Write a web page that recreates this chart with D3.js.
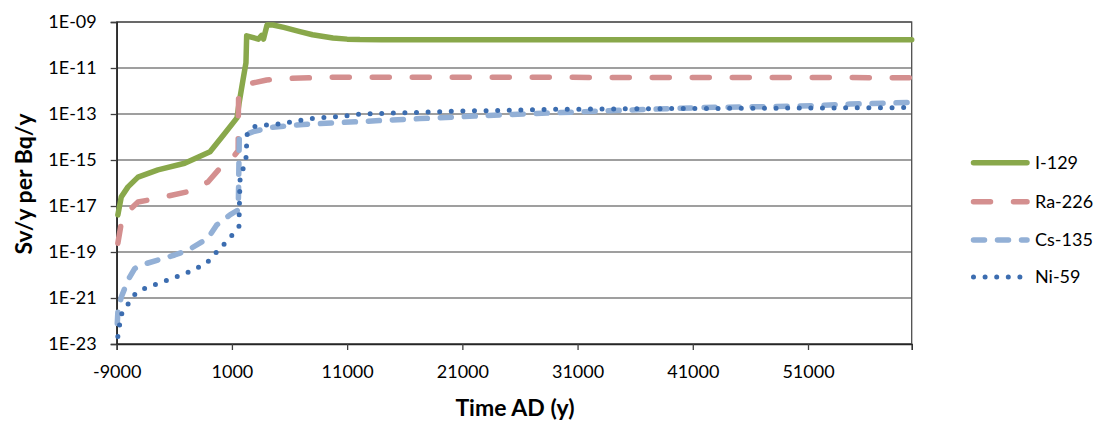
<!DOCTYPE html>
<html><head><meta charset="utf-8">
<script src="https://cdn.jsdelivr.net/npm/d3@7"></script>
<style>
body{margin:0;background:#fff}
svg{display:block}
text{font-family:Lato,"DejaVu Sans",sans-serif;fill:#000}
</style>
</head><body><svg id="c" width="1099" height="424"></svg>
<script>
// ---- data ----
const xTickValues = [-9000, 1000, 11000, 21000, 31000, 41000, 51000];
const yTickLabels = ["1E-23","1E-21","1E-19","1E-17","1E-15","1E-13","1E-11","1E-09"];
const seriesNames = ["I-129","Ra-226","Cs-135","Ni-59"];
const xTitle = "Time AD (y)";
const yTitle = "Sv/y per Bq/y";

const i129Years  = [-8900,-8600,-8020,-7150,-5420,-3100,-900,250,1440,1610,1960,2220,2280,3290,3580,3740,3870,4050,4570,5500,6900,8000,9770,11000,12100,14000,20000,60000];
const i129Values = [4.1e-18,2.5e-17,6.8e-17,1.8e-16,3.7e-16,7.2e-16,2.3e-15,1.2e-14,6.8e-14,2.7e-13,3.0e-12,1.7e-11,2.5e-10,1.8e-10,2.6e-10,1.8e-10,3.3e-10,7.4e-10,7.4e-10,5.8e-10,3.8e-10,2.8e-10,2.0e-10,1.8e-10,1.72e-10,1.7e-10,1.7e-10,1.7e-10];

const ra226Years  = [-8900,-8650,-8370,-7730,-7150,-6280,-4550,-2810,-1080,-40,1270,1540,1560,1580,1870,2570,4020,5900,9770,60000];
const ra226Values = [2.4e-19,1.3e-18,4.0e-18,7.9e-18,1.5e-17,1.8e-17,2.7e-17,4.2e-17,1.1e-16,4.4e-16,1.7e-15,2.5e-15,1.0e-13,5.5e-13,1.3e-12,2.1e-12,3.0e-12,3.5e-12,4.0e-12,3.8e-12];

const cs135Years  = [-8950,-8890,-8600,-8020,-7440,-6870,-5420,-3970,-2810,-1080,-320,830,1550,1640,1990,2860,4310,7170,10090,12120,17320,24270,32950,41630,50300,54640,60000];
const cs135Values = [7.9e-23,3.0e-22,1.1e-21,6.0e-21,1.9e-20,2.7e-20,4.5e-20,7.4e-20,1.2e-19,4.0e-19,1.5e-18,4.1e-18,6.8e-18,1.0e-14,1.2e-14,1.7e-14,2.6e-14,3.5e-14,4.2e-14,4.7e-14,6.3e-14,9.1e-14,1.35e-13,1.9e-13,2.2e-13,2.7e-13,3.2e-13];

const ni59Years  = [-8900,-8740,-8540,-7960,-7390,-6630,-5700,-4750,-3770,-2810,-1940,-1080,-380,320,1030,1610,1660,1700,1990,2220,2270,2280,2860,4020,5030,6040,7060,8060,9080,10090,11100,11970,19930,28610,37290,48570,60000];
const ni59Values = [2.1e-23,7.2e-23,2.3e-22,5.9e-22,1.5e-21,2.5e-21,3.8e-21,5.6e-21,8.5e-21,1.3e-20,2.1e-20,3.8e-20,9.3e-20,2.2e-19,5.5e-19,1.3e-18,1.8e-17,1.3e-16,4.5e-16,1.2e-15,3.8e-15,1.2e-14,2.8e-14,3.3e-14,3.7e-14,4.4e-14,5.5e-14,6.5e-14,7.2e-14,7.6e-14,8.5e-14,9.8e-14,1.3e-13,1.6e-13,1.7e-13,1.8e-13,1.9e-13];

// ---- chart ----
const svg = d3.select("#c");
svg.append("rect").attr("width",1099).attr("height",424).attr("fill","#fff");
const L = 116.7, R = 911.7, T = 22, B = 344;
const x = d3.scaleLinear().domain([-9000, 60000]).range([L, R]);
const yTicks = yTickLabels.map(Number);
const y = d3.scaleLog().domain([yTicks[0], yTicks[yTicks.length-1]]).range([B, T]);

// gridlines
svg.append("g").selectAll("line").data(yTicks).join("line")
  .attr("x1", L).attr("x2", R)
  .attr("y1", d => y(d)).attr("y2", d => y(d))
  .attr("stroke", "#7f7f7f").attr("stroke-width", 1.3);

// plot border
svg.append("rect").attr("x", L).attr("y", T).attr("width", R-L).attr("height", B-T)
  .attr("fill","none").attr("stroke","#4d4d4d").attr("stroke-width",1.3);

// axes
const yAxis = svg.append("g").attr("transform", `translate(${L},0)`)
  .call(d3.axisLeft(y).tickValues(yTicks).tickFormat((d,i)=>yTickLabels[i]).tickSize(6).tickPadding(14));
const xAxis = svg.append("g").attr("transform", `translate(0,${B})`)
  .call(d3.axisBottom(x).tickValues(xTickValues).tickFormat(d=>String(d)).tickSize(6).tickPadding(15));
[yAxis, xAxis].forEach(g=>{
  g.select(".domain").attr("stroke","#262626").attr("stroke-width",1.5);
  g.selectAll(".tick line").attr("stroke","#404040").attr("stroke-width",1.3);
  g.selectAll(".tick text").style("font-size","18px").style("font-family","Lato").attr("fill","#000");
});

// titles
svg.append("text").attr("transform","translate(32,184) rotate(-90)")
  .attr("text-anchor","middle").style("font-size","23px").style("font-weight","bold").text(yTitle);
svg.append("text").attr("x",515).attr("y",416)
  .attr("text-anchor","middle").style("font-size","23px").style("font-weight","bold").text(xTitle);

// series
const styles = [
  {color:"#89a84b", width:5.5, dash:null},
  {color:"#d48f8f", width:5.5, dash:"17 23"},
  {color:"#93b0d6", width:5.5, dash:"11 13"},
  {color:"#3c6db0", width:5, dash:"0 11.6"}
];
const series = [
  i129Years.map((t,i)=>[t,i129Values[i]]),
  ra226Years.map((t,i)=>[t,ra226Values[i]]),
  cs135Years.map((t,i)=>[t,cs135Values[i]]),
  ni59Years.map((t,i)=>[t,ni59Values[i]])
];
const line = d3.line().x(d=>x(d[0])).y(d=>y(d[1]));
series.forEach((s,i)=>{
  const p = svg.append("path").datum(s).attr("d",line)
    .attr("fill","none").attr("stroke",styles[i].color).attr("stroke-width",styles[i].width)
    .attr("stroke-linecap","round").attr("stroke-linejoin","round");
  if (styles[i].dash) p.attr("stroke-dasharray",styles[i].dash);
});

// legend
const legY = [162.7, 201.7, 240, 277];
const lg = svg.append("g");
seriesNames.forEach((n,i)=>{
  const p = lg.append("line").attr("x1",973.5).attr("x2",1027).attr("y1",legY[i]).attr("y2",legY[i])
    .attr("stroke",styles[i].color).attr("stroke-width",styles[i].width).attr("stroke-linecap","round");
  if (styles[i].dash) p.attr("stroke-dasharray",styles[i].dash);
  lg.append("text").attr("x",1035).attr("y",legY[i]).attr("dy","0.36em")
    .style("font-size","18px").text(n);
});
</script>
</body></html>
